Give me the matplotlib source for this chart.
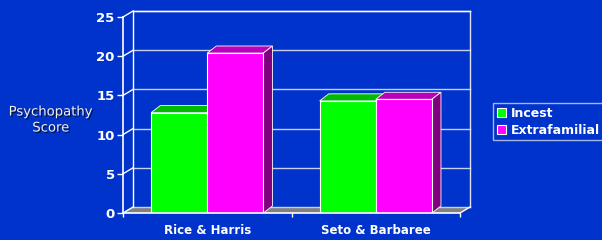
import matplotlib.pyplot as plt
from matplotlib.patches import Polygon, Patch
import matplotlib.patheffects as pe

categories = ['Rice & Harris', 'Seto & Barbaree']
series_names = ['Incest', 'Extrafamilial']
incest = [12.8, 14.3]
extrafamilial = [20.4, 14.5]
yticks = [0, 5, 10, 15, 20, 25]

BG = '#0033CC'
front_colors = ['#00FF00', '#FF00FF']
top_colors = ['#00BB00', '#BB00BB']
side_colors = ['#008000', '#800080']

fig = plt.figure(figsize=(6.02, 2.4), dpi=100, facecolor=BG)
ax = fig.add_axes([123 / 602, 27 / 240, 337 / 602, 196 / 240])
ax.set_facecolor('none')
ax.set_xlim(-0.5, 1.5)
ax.set_ylim(0, 25)

# depth offsets in data units
wdx, wdy = 0.06, 0.77   # walls
bdx, bdy = 0.054, 0.9   # bars
x0, x1 = -0.5, 1.5

# floor
ax.add_patch(Polygon([(x0, 0), (x1, 0), (x1 + wdx, wdy), (x0 + wdx, wdy)],
                     closed=True, facecolor='#808080', edgecolor='none', clip_on=False, zorder=1))
# back wall grid lines and left wall diagonals
for v in yticks:
    ax.plot([x0 + wdx, x1 + wdx], [v + wdy, v + wdy], color='#C8D0F0', lw=1, clip_on=False, zorder=1.5)
    ax.plot([x0, x0 + wdx], [v, v + wdy], color='white', lw=1, clip_on=False, zorder=1.5)
ax.plot([x0 + wdx, x0 + wdx], [wdy, 25 + wdy], color='white', lw=1, clip_on=False, zorder=1.5)
ax.plot([x1 + wdx, x1 + wdx], [wdy, 25 + wdy], color='#E0E4F8', lw=1, clip_on=False, zorder=1.5)
ax.plot([x0 + wdx, x1 + wdx], [25 + wdy, 25 + wdy], color='white', lw=1, clip_on=False, zorder=1.5)
ax.plot([x1, x1 + wdx], [0, wdy], color='white', lw=1, clip_on=False, zorder=1.5)

# bars
w = 0.333
z = 2
for i in range(len(categories)):
    for j, vals in enumerate([incest, extrafamilial]):
        left = i - w + j * w
        right = left + w
        h = vals[i]
        ax.add_patch(Polygon([(left, h), (right, h), (right + bdx, h + bdy), (left + bdx, h + bdy)],
                             closed=True, facecolor=top_colors[j], edgecolor='white', lw=0.6, clip_on=False, zorder=z))
        ax.add_patch(Polygon([(right, 0), (right + bdx, bdy), (right + bdx, h + bdy), (right, h)],
                             closed=True, facecolor=side_colors[j], edgecolor='white', lw=0.6, clip_on=False, zorder=z))
        ax.bar(left, h, width=w, align='edge', color=front_colors[j], edgecolor='white', lw=0.8, zorder=z + 0.5)
        z += 1

for s in ['top', 'right']:
    ax.spines[s].set_visible(False)
for s in ['left', 'bottom']:
    ax.spines[s].set_color('white')
    ax.spines[s].set_linewidth(1.2)
    ax.spines[s].set_zorder(10)

ax.set_yticks(yticks)
ax.set_yticklabels([str(t) for t in yticks], color='white', fontweight='bold', fontsize=9.5)
ax.tick_params(axis='y', colors='white', length=4, width=1, pad=2)
ax.set_xticks([0, 1])
ax.set_xticklabels(categories, color='white', fontweight='bold', fontsize=8.5)
ax.tick_params(axis='x', length=0, pad=8)
ax.set_xticks([-0.5, 0.5, 1.5], minor=True)
ax.tick_params(axis='x', which='minor', colors='white', length=3, width=1)

fig.text(51 / 602, 120 / 240, 'Psychopathy\nScore', color='#F0F0F0', fontsize=9.5,
         ha='center', va='center', linespacing=1.3,
         path_effects=[pe.withSimplePatchShadow(offset=(1, -1), shadow_rgbFace='black', alpha=0.6)])

handles = [Patch(facecolor=front_colors[k], edgecolor='white', lw=0.8) for k in range(2)]
leg = fig.legend(handles, series_names, loc='upper left', bbox_to_anchor=(493 / 602, 137 / 240),
                 frameon=True, fancybox=False, facecolor=BG, edgecolor='#D0D8F0',
                 prop={'weight': 'bold', 'size': 9}, handlelength=0.75, handleheight=0.75,
                 handletextpad=0.4, borderpad=0.3, labelspacing=0.3, borderaxespad=0)
for t in leg.get_texts():
    t.set_color('white')
leg.get_frame().set_linewidth(1)

fig.savefig('out.png', dpi=100, facecolor=BG)
